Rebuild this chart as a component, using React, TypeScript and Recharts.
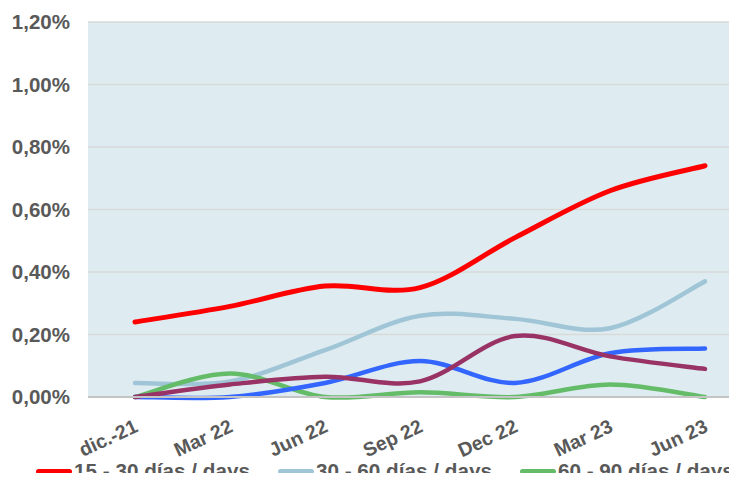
import { LineChart, Line, XAxis, YAxis, CartesianGrid, Legend } from 'recharts';

const periods = ['dic.-21', 'Mar 22', 'Jun 22', 'Sep 22', 'Dec 22', 'Mar 23', 'Jun 23'];
const days15to30 = [0.24, 0.29, 0.355, 0.35, 0.51, 0.66, 0.74];
const days30to60 = [0.045, 0.05, 0.15, 0.26, 0.25, 0.22, 0.37];
const days60to90 = [0, 0.075, 0, 0.015, 0, 0.04, 0];
const days90to120 = [0, 0, 0.045, 0.115, 0.045, 0.14, 0.155];
const daysOver120 = [0, 0.04, 0.065, 0.05, 0.195, 0.13, 0.09];
const yTicks = [0, 0.2, 0.4, 0.6, 0.8, 1.0, 1.2];

const series = [
  { key: 's1', name: '15 - 30 días / days', color: '#ff0000', values: days15to30, width: 5 },
  { key: 's2', name: '30 - 60 días / days', color: '#9fc5d6', values: days30to60, width: 4.5 },
  { key: 's3', name: '60 - 90 días / days', color: '#64bc68', values: days60to90, width: 4.5 },
  { key: 's4', name: '90 - 120 días / days', color: '#3366ff', values: days90to120, width: 4.5 },
  { key: 's5', name: '> 120 días / days', color: '#993366', values: daysOver120, width: 4.5 },
];
// only the first three legend entries fit inside the visible frame
const legendItems = series.slice(0, 3);

const data = periods.map((p, i) => {
  const row: Record<string, string | number> = { period: p };
  series.forEach((s) => { row[s.key] = s.values[i]; });
  return row;
});

const FONT = '"Liberation Sans", Arial, sans-serif';
const TEXT = '#595959';

// Excel-like smoothed line (Catmull-Rom through the points)
function smoothCurve(context: any) {
  let pts: number[][] = [];
  return {
    areaStart() {},
    areaEnd() {},
    lineStart() { pts = []; },
    point(x: number, y: number) { pts.push([+x, +y]); },
    lineEnd() {
      if (!pts.length) return;
      context.moveTo(pts[0][0], pts[0][1]);
      for (let i = 0; i < pts.length - 1; i++) {
        const p0 = pts[i - 1] || pts[i];
        const p1 = pts[i];
        const p2 = pts[i + 1];
        const p3 = pts[i + 2] || pts[i + 1];
        context.bezierCurveTo(
          p1[0] + (p2[0] - p0[0]) / 6, p1[1] + (p2[1] - p0[1]) / 6,
          p2[0] - (p3[0] - p1[0]) / 6, p2[1] - (p3[1] - p1[1]) / 6,
          p2[0], p2[1],
        );
      }
    },
  };
}

function XTick({ x, y, payload }: any) {
  return (
    <g transform={`translate(${x + 4},${y + 26})`}>
      <text
        transform="rotate(-25)"
        textAnchor="end"
        fill={TEXT}
        fontFamily={FONT}
        fontWeight="bold"
        fontSize={19.5}
      >
        {payload.value}
      </text>
    </g>
  );
}

function LegendContent() {
  return (
    <div style={{ height: 54, position: 'relative' }}>
      <div style={{ position: 'absolute', top: 32, left: 36, display: 'flex', whiteSpace: 'nowrap' }}>
        {legendItems.map((s) => (
          <div key={s.key} style={{ display: 'flex', alignItems: 'center', marginRight: 28 }}>
            <div style={{ width: 36, height: 5, borderRadius: 3, background: s.color, marginRight: 2 }} />
            <span style={{ fontFamily: FONT, fontWeight: 'bold', fontSize: 20.7, lineHeight: '24px', color: TEXT }}>{s.name}</span>
          </div>
        ))}
      </div>
    </div>
  );
}

export default function App() {
  return (
    <div style={{ width: 737, height: 481, overflow: 'hidden', margin: -8, background: '#fff' }}>
      <LineChart width={800} height={481} data={data} margin={{ top: 22, right: 48, left: 0, bottom: 0 }}>
        <CartesianGrid vertical={false} stroke="#d9d9d9" strokeWidth={1.5} fill="#deecf1" />
        <XAxis
          dataKey="period"
          axisLine={{ stroke: '#c4c4c4', strokeWidth: 2 }}
          tickLine={false}
          tick={<XTick />}
          interval={0}
          height={30}
          padding={{ left: 47, right: 47 }}
        />
        <YAxis
          domain={[0, 1.2]}
          ticks={yTicks}
          width={88}
          axisLine={false}
          tickLine={false}
          tickSize={0}
          tickMargin={18}
          tickFormatter={(v: number) => `${v.toFixed(2).replace('.', ',')}%`}
          tick={{ fill: TEXT, fontFamily: FONT, fontWeight: 'bold', fontSize: 20.5 }}
        />
        <Legend
          verticalAlign="bottom"
          content={<LegendContent />}
          wrapperStyle={{ left: 0, top: 427, bottom: 'auto', width: 800, height: 54 }}
        />
        {series.map((s) => (
          <Line
            key={s.key}
            dataKey={s.key}
            name={s.name}
            type={smoothCurve as any}
            stroke={s.color}
            strokeWidth={s.width}
            strokeLinecap="round"
            dot={false}
            activeDot={false}
            isAnimationActive={false}
          />
        ))}
      </LineChart>
    </div>
  );
}
